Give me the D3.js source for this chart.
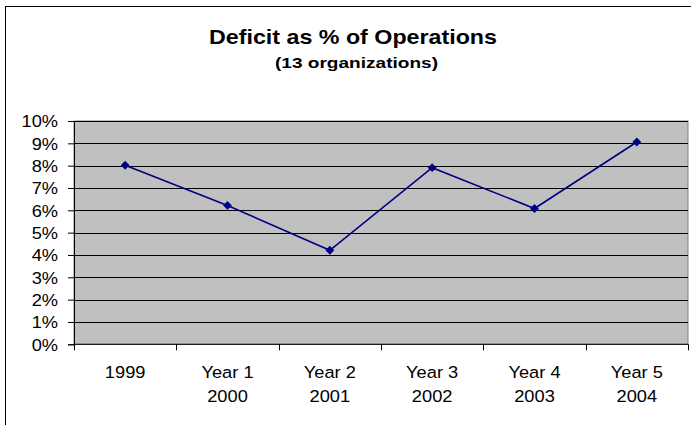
<!DOCTYPE html>
<html>
<head>
<meta charset="utf-8">
<script src="https://cdn.jsdelivr.net/npm/d3@7"></script>
<style>
  html, body { margin: 0; padding: 0; background: #fff; }
  svg { display: block; font-family: "Liberation Sans", Arial, sans-serif; }
</style>
</head>
<body>
<svg id="chart" width="691" height="425"></svg>
<script>
// Categories (two-line labels) and deficit values in percent
const categoriesLine1 = ["1999", "Year 1", "Year 2", "Year 3", "Year 4", "Year 5"];
const categoriesLine2 = ["", "2000", "2001", "2002", "2003", "2004"];
const deficitPct = [8.02, 6.22, 4.21, 7.91, 6.08, 9.06];
const yTicks = [0, 1, 2, 3, 4, 5, 6, 7, 8, 9, 10];

const FONT = "Liberation Sans, Arial, sans-serif";
const svg = d3.select("#chart");
const plot = { left: 74, right: 688, top: 121, bottom: 344.3 };

// Widen glyph runs slightly, as the GDI-style rendering of the labels does
function widen(sel, factor) {
  sel.each(function () {
    const len = this.getComputedTextLength();
    if (len > 0) {
      d3.select(this)
        .attr("textLength", len * factor)
        .attr("lengthAdjust", "spacingAndGlyphs");
    }
  });
}

// Outer chart frame
svg.append("rect")
  .attr("x", 5.5).attr("y", 6.5)
  .attr("width", 700).attr("height", 430)
  .attr("fill", "#fff").attr("stroke", "#000").attr("stroke-width", 1);

// Titles
const title = svg.append("text")
  .attr("x", 353).attr("y", 44)
  .attr("text-anchor", "middle")
  .attr("font-family", FONT)
  .attr("font-size", 20.5).attr("font-weight", "bold")
  .text("Deficit as % of Operations");
title.attr("textLength", 288).attr("lengthAdjust", "spacingAndGlyphs");

const subtitle = svg.append("text")
  .attr("x", 356.5).attr("y", 68.3)
  .attr("text-anchor", "middle")
  .attr("font-family", FONT)
  .attr("font-size", 15).attr("font-weight", "bold")
  .text("(13 organizations)");
subtitle.attr("textLength", 163).attr("lengthAdjust", "spacingAndGlyphs");

const x = d3.scaleBand()
  .domain(categoriesLine1.map((d, i) => i))
  .range([plot.left, plot.right])
  .padding(0);

const y = d3.scaleLinear()
  .domain([0, 10])
  .range([plot.bottom, plot.top]);

// Plot background
svg.append("rect")
  .attr("x", plot.left).attr("y", plot.top)
  .attr("width", plot.right - plot.left)
  .attr("height", plot.bottom - plot.top)
  .attr("fill", "#c0c0c0")
  .attr("stroke", "#808080").attr("stroke-width", 1);

// Horizontal gridlines
svg.append("g")
  .selectAll("line")
  .data(yTicks.filter(t => t > 0))
  .join("line")
  .attr("x1", plot.left).attr("x2", plot.right)
  .attr("y1", d => Math.round(y(d)) + 0.5)
  .attr("y2", d => Math.round(y(d)) + 0.5)
  .attr("stroke", "#000").attr("stroke-width", 1);

// Y axis
const yAxis = d3.axisLeft(y)
  .tickValues(yTicks)
  .tickSize(6)
  .tickPadding(10)
  .tickFormat(d => d + "%");
const gy = svg.append("g")
  .attr("transform", `translate(${plot.left},0)`)
  .call(yAxis);
gy.attr("font-size", null).attr("font-family", null);
gy.selectAll("text")
  .attr("font-size", 16.3).attr("fill", "#000")
  .attr("font-family", FONT)
  .attr("dy", "0.36em");
widen(gy.selectAll("text"), 1.12);
gy.selectAll("line").attr("stroke", "#000");
gy.select(".domain").attr("stroke", "#000");

// X axis: ticks at category boundaries
const bounds = d3.range(categoriesLine1.length + 1)
  .map(i => plot.left + i * x.bandwidth());
const gx = svg.append("g");
gx.append("line")
  .attr("x1", plot.left).attr("x2", plot.right)
  .attr("y1", plot.bottom).attr("y2", plot.bottom)
  .attr("stroke", "#000");
gx.selectAll("line.tick")
  .data(bounds)
  .join("line")
  .attr("class", "tick")
  .attr("x1", d => Math.round(d) + 0.5).attr("x2", d => Math.round(d) + 0.5)
  .attr("y1", plot.bottom).attr("y2", plot.bottom + 6)
  .attr("stroke", "#000");

const idx = categoriesLine1.map((d, i) => i);
const cx = i => x(i) + x.bandwidth() / 2;
gx.selectAll("text.cat1")
  .data(idx)
  .join("text")
  .attr("class", "cat1")
  .attr("text-anchor", "middle")
  .attr("font-family", FONT)
  .attr("font-size", 16.3)
  .attr("x", cx).attr("y", 378)
  .text(i => categoriesLine1[i]);
gx.selectAll("text.cat2")
  .data(idx.filter(i => categoriesLine2[i]))
  .join("text")
  .attr("class", "cat2")
  .attr("text-anchor", "middle")
  .attr("font-family", FONT)
  .attr("font-size", 16.3)
  .attr("x", cx).attr("y", 401.5)
  .text(i => categoriesLine2[i]);
widen(gx.selectAll("text"), 1.12);

// Series line
const line = d3.line()
  .x((d, i) => cx(i))
  .y(d => y(d));
svg.append("path")
  .datum(deficitPct)
  .attr("d", line)
  .attr("fill", "none")
  .attr("stroke", "#000080")
  .attr("stroke-width", 1.6);

// Diamond markers
svg.append("g")
  .selectAll("path")
  .data(deficitPct)
  .join("path")
  .attr("transform", (d, i) => `translate(${cx(i)},${y(d)})`)
  .attr("d", d3.symbol(d3.symbolDiamond2 || d3.symbolDiamond, 50))
  .attr("fill", "#000080");
</script>
</body>
</html>
